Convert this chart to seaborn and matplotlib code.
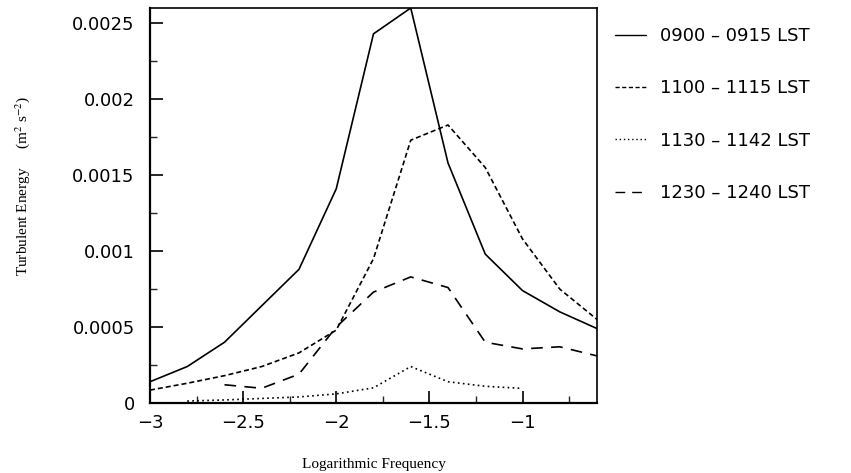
import numpy as np
import pandas as pd
import matplotlib
matplotlib.use("Agg")
import matplotlib.pyplot as plt
from matplotlib.ticker import MultipleLocator, FuncFormatter
import seaborn as sns

# ---- data ----
labels = ["0900 – 0915 LST", "1100 – 1115 LST", "1130 – 1142 LST", "1230 – 1240 LST"]

x_0900 = [-3.0, -2.8, -2.6, -2.4, -2.2, -2.0, -1.8, -1.6, -1.4, -1.2, -1.0, -0.8, -0.6]
y_0900 = [0.00014, 0.00024, 0.00040, 0.00064, 0.00088, 0.00141, 0.00243, 0.00260,
          0.00158, 0.00098, 0.00074, 0.00060, 0.00049]

x_1100 = [-3.0, -2.8, -2.6, -2.4, -2.2, -2.0, -1.8, -1.6, -1.4, -1.2, -1.0, -0.8, -0.6]
y_1100 = [0.000085, 0.00013, 0.00018, 0.00024, 0.00033, 0.00048, 0.00095, 0.00173,
          0.00183, 0.00155, 0.00108, 0.00075, 0.00055]

x_1130 = [-2.8, -2.6, -2.4, -2.2, -2.0, -1.8, -1.6, -1.4, -1.2, -1.0]
y_1130 = [0.000013, 0.00002, 0.00003, 0.00004, 0.00006, 0.00010, 0.00024, 0.00014,
          0.00011, 0.000096]

x_1230 = [-2.6, -2.4, -2.2, -2.0, -1.8, -1.6, -1.4, -1.2, -1.0, -0.8, -0.6]
y_1230 = [0.00012, 0.000097, 0.00019, 0.00050, 0.00073, 0.00083, 0.00076, 0.00040,
          0.000356, 0.00037, 0.00031]

xs = [x_0900, x_1100, x_1130, x_1230]
ys = [y_0900, y_1100, y_1130, y_1230]

df = pd.concat(
    [pd.DataFrame({"freq": x, "energy": y, "period": lab}) for x, y, lab in zip(xs, ys, labels)],
    ignore_index=True,
)

styles = {
    labels[0]: "-",
    labels[1]: (0, (3.0, 1.8)),
    labels[2]: (0, (1.0, 2.0)),
    labels[3]: (0, (7.0, 5.0)),
}

sns.set_style("ticks")
plt.rcParams["font.family"] = ["DejaVu Sans"]
plt.rcParams["mathtext.fontset"] = "stix"
plt.rcParams["text.color"] = "black"
plt.rcParams["axes.labelcolor"] = "black"

fig = plt.figure(figsize=(8.51, 4.73), dpi=100)
ax = fig.add_axes([150 / 851, 1 - 403 / 473, 447 / 851, 395 / 473])

for lab in labels:
    sub = df[df["period"] == lab]
    sns.lineplot(data=sub, x="freq", y="energy", ax=ax, color="black",
                 linewidth=1.2, linestyle=styles[lab], label=lab, legend=False)

ax.set_xlim(-3.0, -0.6)
ax.set_ylim(0, 0.0026)

ax.xaxis.set_major_locator(MultipleLocator(0.5))
ax.xaxis.set_minor_locator(MultipleLocator(0.25))
ax.yaxis.set_major_locator(MultipleLocator(0.0005))
ax.yaxis.set_minor_locator(MultipleLocator(0.00025))

def xfmt(v, pos):
    s = f"{v:g}"
    return s.replace("-", "\u2212")

def yfmt(v, pos):
    if abs(v) < 1e-12:
        return "0"
    return f"{v:.4f}".rstrip("0")

ax.xaxis.set_major_formatter(FuncFormatter(xfmt))
ax.yaxis.set_major_formatter(FuncFormatter(yfmt))

ax.tick_params(axis="both", which="major", direction="in", length=9, width=1.2,
               labelsize=13, colors="black")
ax.tick_params(axis="y", which="major", pad=11)
ax.tick_params(axis="x", which="major", pad=8)
ax.tick_params(axis="both", which="minor", direction="in", length=5, width=1.0)
ax.tick_params(top=False, right=False, which="both")

for side in ["left", "bottom"]:
    ax.spines[side].set_linewidth(1.6)
for side in ["top", "right"]:
    ax.spines[side].set_linewidth(1.2)
    ax.spines[side].set_visible(True)
for sp in ax.spines.values():
    sp.set_color("black")

ax.set_xlabel("Logarithmic Frequency", family=["Liberation Serif", "DejaVu Serif"],
              fontsize=11, color="black")
ax.xaxis.set_label_coords(0.5, -0.14)
ax.set_ylabel("Turbulent Energy     (m$^2$ s$^{-2}$)",
              family=["Liberation Serif", "DejaVu Serif"], fontsize=11, color="black")
ax.yaxis.set_label_coords(-0.265, 0.55)

handles, labs = ax.get_legend_handles_labels()
leg = fig.legend(handles, labs, loc="upper left",
                 bbox_to_anchor=(615 / 851, 1 - 27 / 473),
                 frameon=False, fontsize=13, handlelength=1.7, handletextpad=0.8,
                 labelspacing=1.9, borderpad=0, borderaxespad=0, labelcolor="black")
for line in leg.get_lines():
    line.set_linewidth(1.0)

fig.savefig("out.png", dpi=100, facecolor="white")
